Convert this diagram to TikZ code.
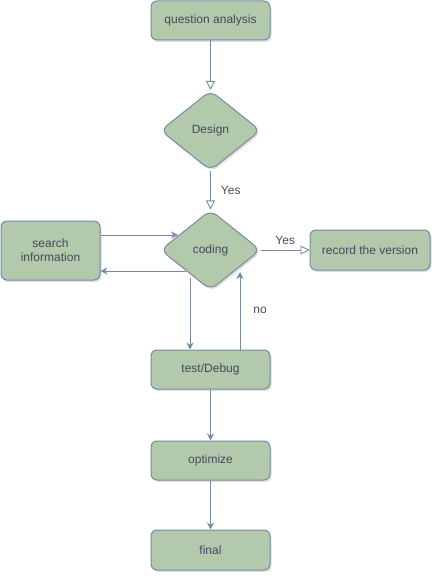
\documentclass[tikz,border=0pt]{standalone}
\usepackage{fontspec}
\setmainfont{Liberation Sans}
\usetikzlibrary{shapes.geometric,arrows.meta,shadows}
\definecolor{sage}{HTML}{B2C9AB}
\definecolor{slate}{HTML}{788AA3}
\definecolor{ink}{HTML}{46495D}

\begin{document}
\begin{tikzpicture}[x=1pt,y=-1pt,
  box/.style={draw=slate,fill=sage,line width=1pt,rounded corners=6pt,
    minimum width=119pt,minimum height=39pt,text=ink,
    font=\fontsize{12}{14}\selectfont,
    drop shadow={shadow xshift=1.5pt,shadow yshift=-2pt,opacity=0.25}},
  choice/.style={box,diamond,inner sep=0pt,rounded corners=8pt,
    minimum width=100pt,minimum height=80pt},
  flow/.style={draw=slate,line width=0.9pt,-{Stealth[length=7pt,width=7pt]}},
  hollow/.style={draw=slate,line width=0.9pt,
    -{Triangle[open,length=9pt,width=9pt,fill=white]}},
  tag/.style={text=ink,font=\fontsize{12}{14}\selectfont,inner sep=1pt}]
\useasboundingbox (0,0) rectangle (442,583);
% boxes
\node[box] (qa) at (210.5,20.5) {question analysis};
\node[choice] (design) at (210.5,130.5) {Design};
\node[choice] (coding) at (210.5,250) {coding};
\node[box,minimum width=99pt,minimum height=59pt,align=center] (sinfo) at (50.5,250.5) {search\\information};
\node[box,minimum width=120pt,minimum height=40pt] (record) at (370,250) {record the version};
\node[box] (test) at (210.5,369.5) {test/Debug};
\node[box] (opt) at (210.5,460.5) {optimize};
\node[box,minimum height=40pt] (final) at (210.5,550) {final};
% arrows
\draw[hollow] (qa) -- (design);
\draw[hollow] (design) -- node[tag,right=9pt] (yes1) {Yes} (coding);
\draw[hollow] (coding) -- node[tag,above=4pt] (yes2) {Yes} (record);
\coordinate (cin) at (178,235);
\coordinate (cout) at (186,271);
\coordinate (cdown) at (190,278);
\coordinate (cup) at (240,272);
\draw[flow] (sinfo.east |- cin) -- (cin);
\draw[flow] (cout) -- (sinfo.east |- cout);
\draw[flow] (cdown) -- (cdown |- test.north);
\draw[flow] (cup |- test.north) -- node[tag,right=12pt] (no) {no} (cup);
\draw[flow] (test) -- (opt);
\draw[flow] (opt) -- (final);
\end{tikzpicture}
\end{document}
